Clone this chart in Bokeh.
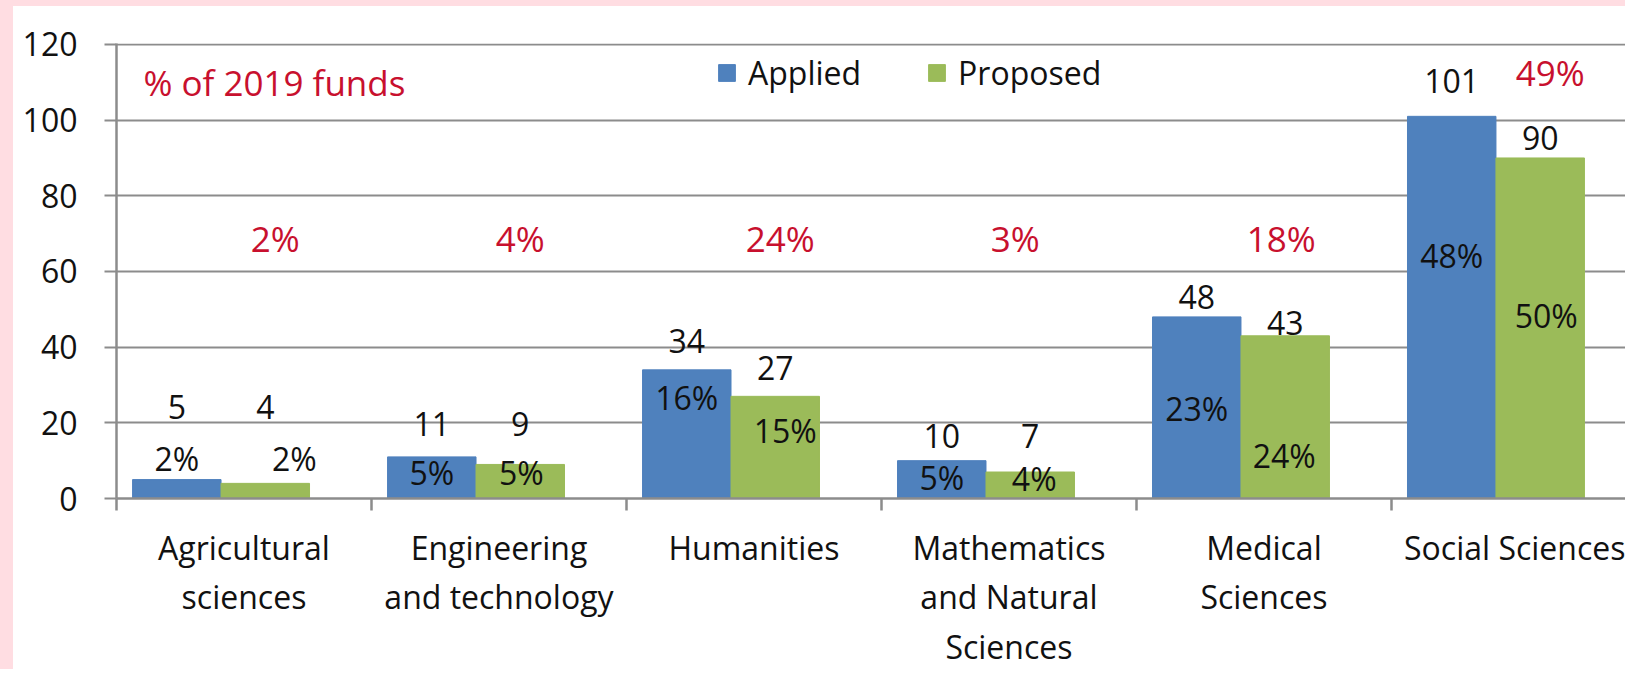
import numpy as np
from bokeh.plotting import figure
from bokeh.models import Range1d, FixedTicker, ColumnDataSource, Label
from bokeh.core.properties import value
from bokeh.embed import file_html
from bokeh.resources import INLINE

# ---------------- data ----------------
categories = ["Agricultural\nsciences", "Engineering\nand technology", "Humanities",
              "Mathematics\nand Natural\nSciences", "Medical\nSciences", "Social Sciences"]
applied = [5, 11, 34, 10, 48, 101]
proposed = [4, 9, 27, 7, 43, 90]
applied_pct = ["2%", "5%", "16%", "5%", "23%", "48%"]
proposed_pct = ["2%", "5%", "15%", "4%", "24%", "50%"]
funds_pct = ["2%", "4%", "24%", "3%", "18%", "49%"]
y_ticks = [0, 20, 40, 60, 80, 100, 120]

# ---------------- label placement (layout, data units / px) ----------------
applied_val_y = [24.1, 19.8, 41.7, 16.6, 53.2, 110.4]
proposed_val_y = [24.3, 19.8, 34.6, 16.6, 46.5, 95.4]
applied_pct_y = [10.6, 6.9, 26.7, 5.5, 23.8, 64.2]
proposed_pct_y = [10.6, 6.9, 18.0, 5.3, 11.4, 48.3]
proposed_pct_dx = [29, 1, 10, 4, -1, 6]
funds_pct_y = [68.7, 68.7, 68.7, 68.7, 68.7, 112.5]
funds_pct_dx = [10, 0, 5, -15, -4, 10]

BLUE = "#4F81BD"
GREEN = "#9BBB59"
GRID = "#8C8C8C"
RED = "#C8102E"
PINK = "#FFDDE2"
FONT = "Open Sans"
FS = "32px"

n = len(categories)
idx = np.arange(n)
bar_w = 0.347
x_app = idx + 0.063 + bar_w / 2
x_pro = x_app + bar_w

p = figure(width=1625, height=669, output_backend="svg", toolbar_location=None,
           x_range=Range1d(0, 5.969), y_range=Range1d(0, 120.25),
           min_border_left=103, min_border_right=0, min_border_top=37, min_border_bottom=177)
p.styles = {"border-left": f"13px solid {PINK}", "border-top": f"6px solid {PINK}"}
p.outline_line_color = None
p.background_fill_color = "white"
p.border_fill_color = "white"

src = ColumnDataSource(dict(x_app=x_app, x_pro=x_pro, applied=applied, proposed=proposed,
                            applied_lbl=[str(v) for v in applied], proposed_lbl=[str(v) for v in proposed],
                            applied_pct=applied_pct, proposed_pct=proposed_pct, funds_pct=funds_pct,
                            applied_val_y=applied_val_y, proposed_val_y=proposed_val_y,
                            applied_pct_y=applied_pct_y, proposed_pct_y=proposed_pct_y,
                            proposed_pct_dx=proposed_pct_dx,
                            funds_pct_y=funds_pct_y, funds_pct_dx=funds_pct_dx))

p.vbar(x="x_app", top="applied", bottom=0, width=bar_w, source=src,
       fill_color=BLUE, line_color=BLUE, legend_label="Applied")
p.vbar(x="x_pro", top="proposed", bottom=0, width=bar_w, source=src,
       fill_color=GREEN, line_color=GREEN, legend_label="Proposed")

common = dict(text_font=value(FONT), text_font_size=value(FS), text_align="center",
              text_baseline="middle", text_color="#111111", source=src)
p.text(x="x_app", y="applied_val_y", text="applied_lbl", **common)
p.text(x="x_pro", y="proposed_val_y", text="proposed_lbl", **common)
p.text(x="x_app", y="applied_pct_y", text="applied_pct", **common)
p.text(x="x_pro", y="proposed_pct_y", text="proposed_pct", x_offset="proposed_pct_dx", **common)
p.text(x="x_pro", y="funds_pct_y", text="funds_pct", x_offset="funds_pct_dx",
       text_font=value(FONT), text_font_size=value("35px"), text_align="center",
       text_baseline="middle", text_color=RED, source=src)

p.add_layout(Label(x=0.106, y=109.9, text="% of 2019 funds", text_font=FONT,
                   text_font_size="35px", text_color=RED, text_baseline="middle"))

# grid
p.xgrid.visible = False
p.ygrid.ticker = FixedTicker(ticks=y_ticks)
p.ygrid.grid_line_color = GRID
p.ygrid.grid_line_width = 2

# y axis
p.yaxis.ticker = FixedTicker(ticks=y_ticks)
p.yaxis.axis_line_color = GRID
p.yaxis.axis_line_width = 2.5
p.yaxis.major_tick_line_color = GRID
p.yaxis.major_tick_line_width = 2
p.yaxis.major_tick_out = 12
p.yaxis.major_tick_in = 0
p.yaxis.minor_tick_line_color = None
p.yaxis.major_label_standoff = 27
p.yaxis.major_label_text_font = FONT
p.yaxis.major_label_text_font_size = FS
p.yaxis.major_label_text_color = "#111111"

# x axis
p.xaxis.ticker = FixedTicker(ticks=list(idx + 0.5), minor_ticks=list(range(n + 1)))
p.xaxis.major_label_overrides = {float(i + 0.5): c for i, c in enumerate(categories)}
p.xaxis.axis_line_color = GRID
p.xaxis.axis_line_width = 2.5
p.xaxis.major_tick_line_color = None
p.xaxis.major_tick_out = 12
p.xaxis.major_tick_in = 0
p.xaxis.minor_tick_line_color = GRID
p.xaxis.minor_tick_line_width = 2.5
p.xaxis.minor_tick_out = 12
p.xaxis.minor_tick_in = 0
p.xaxis.major_label_standoff = 15
p.xaxis.major_label_text_font = FONT
p.xaxis.major_label_text_font_size = FS
p.xaxis.major_label_text_color = "#111111"
p.xaxis.major_label_text_line_height = 1.16

# legend
lg = p.legend[0]
lg.orientation = "horizontal"
lg.location = (600, 404)
lg.border_line_color = None
lg.background_fill_alpha = 0
lg.padding = 0
lg.margin = 0
lg.spacing = 65
lg.glyph_width = 21
lg.glyph_height = 21
lg.label_standoff = 11
lg.label_text_font = FONT
lg.label_text_font_size = FS
lg.label_text_color = "#111111"

open("out.html", "w").write(file_html(p, INLINE))
